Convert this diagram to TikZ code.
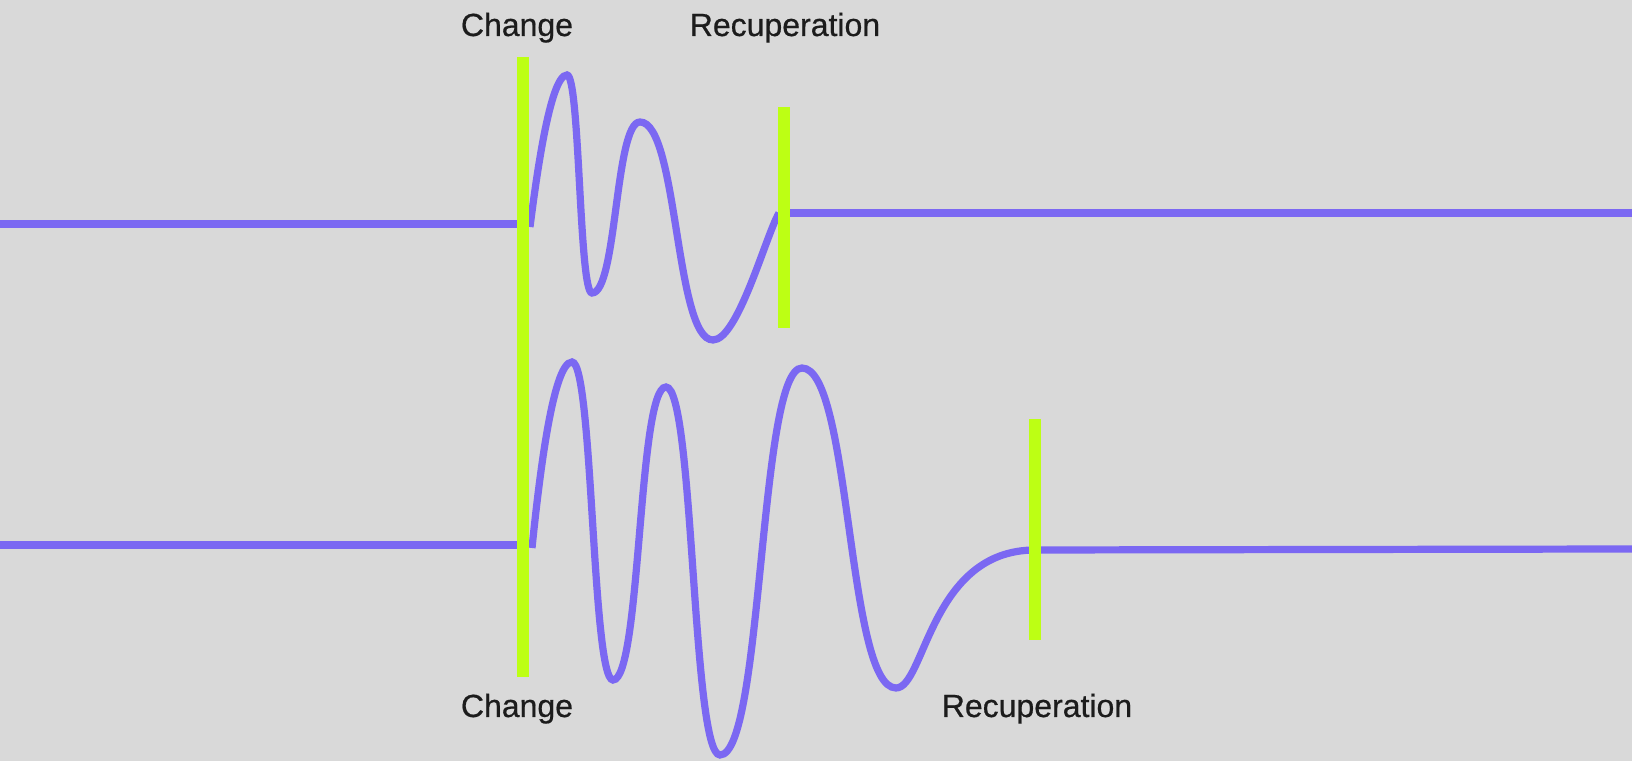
\documentclass[tikz,border=0pt]{standalone}
\usepackage{fontspec}
\setmainfont{Liberation Sans}
\newfontfamily\lblfont[FakeBold=0.6]{Liberation Sans}
\usepackage{xcolor}
\definecolor{wbg}{HTML}{D9D9D9}
\definecolor{wpurple}{HTML}{7B68F2}
\definecolor{wlime}{HTML}{BDFF14}
\definecolor{wtext}{HTML}{1C1C1C}

\begin{document}
\begin{tikzpicture}[x=0.01cm, y=-0.01cm,
  wave/.style={wpurple, line width=2.05pt},
  marker/.style={wlime, line width=3.3pt},
  lbl/.style={text=wtext, font=\lblfont\fontsize{9.1}{10}\selectfont, inner sep=0pt, anchor=base}]
\fill[wbg] (0,0) rectangle (1632,761);
\useasboundingbox (0,0) rectangle (1632,761);
% ---------- upper trace: short disturbance ----------
\draw[wave] (0,224) -- (519,224);
\draw[wave] (530,227) .. controls (536,180) and (550,75) .. (567,75)
  .. controls (580,75) and (579,293) .. (592,293)
  .. controls (617,293) and (615,122) .. (640,122)
  .. controls (678,122) and (675,340) .. (713,340)
  .. controls (738,340) and (766,235) .. (779,213);
\draw[wave] (779,213) -- (1632,213);
% ---------- lower trace: long disturbance ----------
\draw[wave] (0,545) -- (519,545);
\draw[wave] (532,548) .. controls (538,490) and (552,362) .. (572,362)
  .. controls (593,362) and (592,680) .. (613,680)
  .. controls (641,680) and (638,387) .. (666,387)
  .. controls (694,387) and (692,755) .. (720,755)
  .. controls (763,755) and (759,368) .. (802,368)
  .. controls (851,368) and (847,688) .. (896,688)
  .. controls (925,688) and (930,550) .. (1035,550);
\draw[wave] (1035,550) -- (1632,549);
% ---------- markers ----------
\coordinate (chg0)  at (523,57);
\coordinate (chg1)  at (523,677);
\coordinate (recA0) at (784,107);
\coordinate (recA1) at (784,328);
\coordinate (recB0) at (1035,419);
\coordinate (recB1) at (1035,640);
\draw[marker] (chg0) -- (chg1);
\draw[marker] (recA0) -- (recA1);
\draw[marker] (recB0) -- (recB1);
% ---------- labels ----------
\node[lbl] (chgtop) at (517,36) {Change};
\node[lbl] (rectop) at (785,36) {Recuperation};
\node[lbl] (chgbot) at (517,717) {Change};
\node[lbl] (recbot) at (1037,717) {Recuperation};
\end{tikzpicture}
\end{document}
